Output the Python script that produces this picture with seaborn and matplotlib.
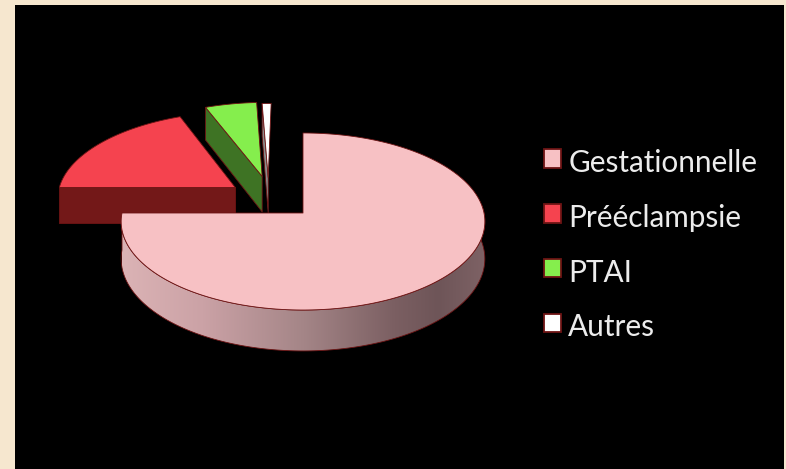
import numpy as np
import matplotlib
matplotlib.use("Agg")
import matplotlib.pyplot as plt
from matplotlib.colors import LinearSegmentedColormap
from matplotlib.patches import Polygon, Patch
import seaborn as sns

# --- data ---
categories = ["Gestationnelle", "Prééclampsie", "PTAI", "Autres"]
values = [75.0, 18.9, 5.2, 0.9]
offset_x = [0.0, -0.385, -0.235, -0.20]
offset_y = [0.0, 0.30, 0.435, 0.42]

top_colors = ["#F7C1C4", "#F5434F", "#85EE4D", "#FFFFFF"]
side_colors = ["#A88889", "#731818", "#3E7324", "#8C8C8C"]
edge_color = "#6E1414"

sns.set_theme(style="dark")
plt.rcParams["font.family"] = ["Lato", "DejaVu Sans"]

# --- perspective of the disc plane ---
APEX_X, APEX_Y = 303.0, 213.0
SCALE_X, SCALE_Y, PERSP, DEPTH = 181.0, 87.7, 0.096, 37.0


def project(X, Y, lift=0.0):
    den = 1 + PERSP * Y
    return APEX_X + SCALE_X * X / den, APEX_Y - SCALE_Y * Y / den + DEPTH * lift / den


fig = plt.figure(figsize=(7.86, 4.69), dpi=100, facecolor="#F6E7CF")
ax = fig.add_axes([15 / 786, 0, (784 - 15) / 786, (469 - 5) / 469])

wedges, _ = ax.pie(values, startangle=90, counterclock=False, colors=sns.color_palette(top_colors))
slices = []
for w, dx, dy in zip(wedges, offset_x, offset_y):
    slices.append((np.radians(w.theta1), np.radians(w.theta2), dx, dy))
    w.remove()
ax.set_frame_on(True)
ax.set_facecolor("black")
ax.set_aspect("auto")
ax.set_xlim(15, 784)
ax.set_ylim(469, 5)
ax.set_xticks([])
ax.set_yticks([])
for s in ax.spines.values():
    s.set_visible(False)


def arc(t1, t2, dx, dy, lift=0.0):
    t = np.linspace(t1, t2, 240)
    return np.column_stack(project(dx + np.cos(t), dy + np.sin(t), lift))


edge_kw = dict(edgecolor=edge_color, linewidth=0.6, joinstyle="round")

# back-to-front: Autres, PTAI, Prééclampsie, Gestationnelle
for i in [3, 2, 1, 0]:
    t1, t2, dx, dy = slices[i]
    a = np.array([project(dx, dy)])
    a_low = np.array([project(dx, dy, 1.0)])
    rim = arc(t1, t2, dx, dy)
    if i == 0:
        # outer wall along the front of the disc, shaded left to right
        tt1 = np.radians(180.0)
        tt2 = np.radians(360.0 + np.degrees(np.arcsin(PERSP)))
        upper = arc(tt1, tt2, dx, dy)
        lower = arc(tt1, tt2, dx, dy, 1.0)
        wall = Polygon(np.vstack([upper, lower[::-1]]), closed=True, facecolor="none", zorder=5.5, **edge_kw)
        ax.add_patch(wall)
        stops = [(0.0, "#DBB3B5"), (0.22, "#CBA2A6"), (0.50, "#A48587"), (0.75, "#7B5F62"),
                 (0.87, "#6E5558"), (1.0, "#7E6265")]
        cmap = LinearSegmentedColormap.from_list("wall", stops)
        im = ax.imshow(np.linspace(0, 1, 256)[None, :], cmap=cmap, aspect="auto",
                       extent=(122, 486, 360, 200), zorder=5.4)
        im.set_clip_path(wall)
        ax.set_xlim(15, 784)
        ax.set_ylim(469, 5)
    else:
        # radial cut face on the left end of the slice (largest math angle)
        edge_pt = np.array([project(dx + np.cos(t2), dy + np.sin(t2))])
        edge_low = np.array([project(dx + np.cos(t2), dy + np.sin(t2), 1.0)])
        face = np.vstack([edge_pt, a, a_low, edge_low])
        ax.add_patch(Polygon(face, closed=True, facecolor=side_colors[i], zorder=5.5 - i, **edge_kw))
    ax.add_patch(Polygon(np.vstack([a, rim]), closed=True, facecolor=top_colors[i], zorder=6 - i, **edge_kw))

handles = [Patch(facecolor=c, edgecolor=edge_color, linewidth=1.3) for c in top_colors]
leg = ax.legend(handles, categories, loc="upper left", bbox_to_anchor=(544, 146),
                bbox_transform=ax.transData, frameon=False, fontsize=21.4, labelcolor="#ECECEC",
                handlelength=0.58, handleheight=0.58, handletextpad=0.24, labelspacing=0.9,
                borderpad=0, borderaxespad=0)
for t in leg.get_texts():
    t.set_y(-3)

fig.savefig("out.png", dpi=100, facecolor=fig.get_facecolor())
